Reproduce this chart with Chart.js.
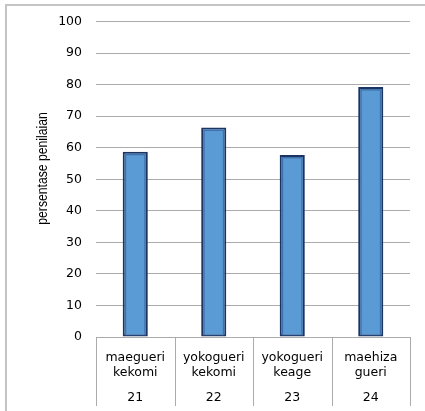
<!DOCTYPE html>
<html>
<head>
<meta charset="utf-8">
<script src="https://cdn.jsdelivr.net/npm/chart.js@4/dist/chart.umd.min.js"></script>
<style>
  html, body { margin: 0; padding: 0; background: #ffffff; }
  #wrap { width: 425px; height: 411px; position: relative; }
</style>
</head>
<body>
<div id="wrap"><canvas id="c"></canvas></div>
<script>
// Kick techniques and their item numbers
const moveNames = [
  ['maegueri', 'kekomi'],
  ['yokogueri', 'kekomi'],
  ['yokogueri', 'keage'],
  ['maehiza', 'gueri']
];
const moveNumbers = ['21', '22', '23', '24'];

// Assessment percentage per technique
const scores = [58.7, 66.4, 57.7, 79.2];

// Value axis
const yMin = 0;
const yMax = 100;
const yStep = 10;
const yTitle = 'persentase penilaian';

const GRID = '#ababab';
const TEXT = '#000000';
const TICK_FONT = { family: '"DejaVu Sans", Verdana, sans-serif', size: 12.5 };

// Outer frame, category table lines, item numbers, axis title, bar bevel
const tablePlugin = {
  id: 'tablePlugin',
  beforeDraw(chart) {
    const ctx = chart.ctx;
    ctx.save();
    ctx.strokeStyle = '#c4c4c4';
    ctx.lineWidth = 2;
    ctx.beginPath();
    ctx.moveTo(6, 411);
    ctx.lineTo(6, 5);
    ctx.lineTo(425, 5);
    ctx.stroke();
    ctx.restore();
  },
  afterDatasetsDraw(chart) {
    const ctx = chart.ctx;
    const meta = chart.getDatasetMeta(0);
    ctx.save();
    meta.data.forEach(bar => {
      const p = bar.getProps(['x', 'y', 'base', 'width'], true);
      const l = p.x - p.width / 2;
      ctx.strokeStyle = 'rgba(40,80,140,0.55)';
      ctx.lineWidth = 1.5;
      ctx.strokeRect(l + 2.75, p.y + 2.75, p.width - 5.5, p.base - p.y - 4);
    });
    ctx.restore();
  },
  afterDraw(chart) {
    const ctx = chart.ctx;
    const x = chart.scales.x;
    const area = chart.chartArea;
    ctx.save();
    // vertical separators of the category table
    ctx.strokeStyle = GRID;
    ctx.lineWidth = 1;
    for (let i = 0; i <= moveNumbers.length; i++) {
      const px = Math.round(x.getPixelForValue(i - 0.5)) + 0.5;
      ctx.beginPath();
      ctx.moveTo(px, area.bottom);
      ctx.lineTo(px, 406);
      ctx.stroke();
    }
    // item numbers row
    ctx.fillStyle = TEXT;
    ctx.font = `${TICK_FONT.size}px ${TICK_FONT.family}`;
    ctx.textAlign = 'center';
    ctx.textBaseline = 'middle';
    moveNumbers.forEach((n, i) => {
      ctx.fillText(n, x.getPixelForValue(i), 398);
    });
    // value axis title (slightly condensed)
    ctx.translate(43, 168.5);
    ctx.rotate(-Math.PI / 2);
    ctx.scale(0.87, 1);
    ctx.font = '14px "Liberation Sans", Arial, sans-serif';
    ctx.fillText(yTitle, 0, 0);
    ctx.restore();
  }
};

new Chart(document.getElementById('c'), {
  type: 'bar',
  data: {
    labels: moveNames,
    datasets: [{
      data: scores,
      backgroundColor: '#5b9bd5',
      borderColor: '#1b3461',
      borderWidth: 2,
      borderSkipped: false,
      barPercentage: 1,
      categoryPercentage: 0.32
    }]
  },
  options: {
    responsive: true,
    maintainAspectRatio: false,
    animation: false,
    devicePixelRatio: 1,
    layout: { padding: { top: 20, right: 15, left: 0, bottom: 0 } },
    plugins: {
      legend: { display: false },
      tooltip: { enabled: false }
    },
    scales: {
      x: {
        type: 'category',
        offset: true,
        grid: { display: false },
        border: { display: true, color: GRID, width: 1 },
        ticks: {
          autoSkip: false,
          maxRotation: 0,
          minRotation: 0,
          padding: 5,
          color: TEXT,
          font: { ...TICK_FONT, lineHeight: 1.22 }
        },
        afterFit(scale) { scale.height = 74; }
      },
      y: {
        min: yMin,
        max: yMax,
        ticks: {
          stepSize: yStep,
          padding: 14,
          color: TEXT,
          font: TICK_FONT
        },
        grid: { color: GRID, lineWidth: 1, drawTicks: false },
        border: { display: false },
        afterFit(scale) { scale.width = 96; }
      }
    }
  },
  plugins: [tablePlugin]
});
</script>
</body>
</html>
